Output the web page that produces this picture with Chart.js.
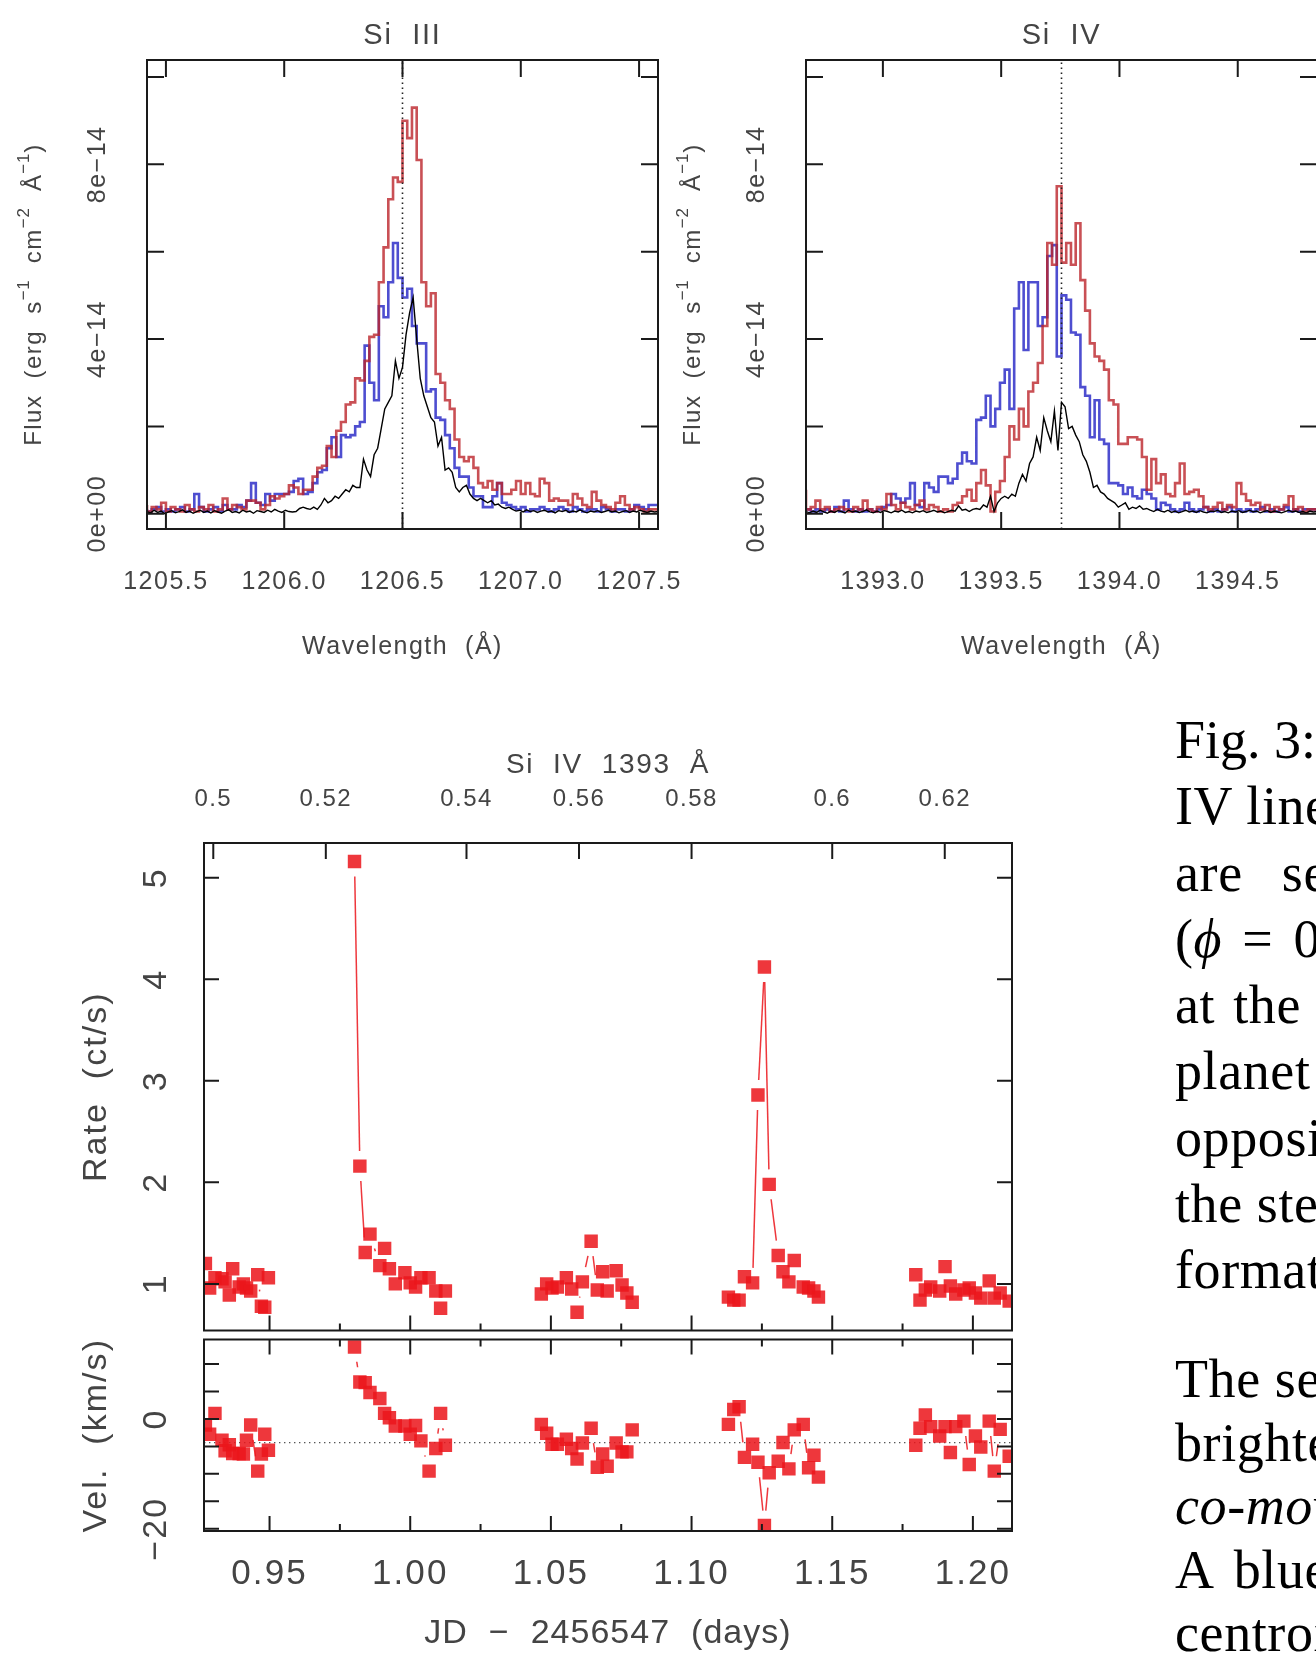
<!DOCTYPE html>
<html>
<head>
<meta charset="utf-8">
<title>Si III / Si IV line profiles and Si IV light curve</title>
<script src="https://cdn.jsdelivr.net/npm/chart.js@4.4.0/dist/chart.umd.min.js"></script>
<style>
  html, body { margin: 0; padding: 0; background: #fff; }
  body { width: 1316px; height: 1659px; overflow: hidden; position: relative; }
  canvas { position: absolute; }
  .cap {
    position: absolute; left: 1175px; white-space: nowrap;
    font-family: "Liberation Serif", "DejaVu Serif", serif;
    font-size: 54px; line-height: 66px; color: #000; letter-spacing: 0.6px;
  }
</style>
</head>
<body>
<canvas id="si3Chart" width="700" height="680" style="left:0;top:0;width:700px;height:680px"></canvas>
<canvas id="si4Chart" width="700" height="680" style="left:660px;top:0;width:700px;height:680px"></canvas>
<canvas id="rateChart" width="1060" height="640" style="left:0;top:700px;width:1060px;height:640px"></canvas>
<canvas id="velChart" width="1060" height="329" style="left:0;top:1330px;width:1060px;height:329px"></canvas>

<div class="cap" style="top:707px;letter-spacing:0">Fig. 3: Top: Si III and Si</div>
<div class="cap" style="top:773px">IV lines in the quiescent</div>
<div class="cap" style="top:840px;word-spacing:25px">are seen during the</div>
<div class="cap" style="top:906px;word-spacing:6px">(<i>ϕ</i> = 0.52) and</div>
<div class="cap" style="top:972px;word-spacing:4px">at the same</div>
<div class="cap" style="top:1038px">planet and</div>
<div class="cap" style="top:1105px">opposite</div>
<div class="cap" style="top:1171px">the stellar</div>
<div class="cap" style="top:1237px">formation</div>
<div class="cap" style="top:1346px">The second</div>
<div class="cap" style="top:1410px">brightening</div>
<div class="cap" style="top:1473px"><i>co-moving</i></div>
<div class="cap" style="top:1537px;word-spacing:8px">A blue</div>
<div class="cap" style="top:1600px">centroid</div>

<script>
// ---------- spectra (flux in units of 1e-14 erg s-1 cm-2 A-1) ----------
const SI3_REST = 1206.50;
const SI3_MIN = 1205.42;
const SI3_MAX = 1207.58;
const SI4_REST = 1393.755;
const SI4_MIN = 1392.675;
const SI4_MAX = 1394.835;
const FLUX_MIN = -0.35;
const FLUX_MAX = 10.39;
const BIN = 0.02;    // red / blue histogram bin width (A)
const FINE = 0.015;  // black spectrum sampling (A)

const si3Red = [
  0.2, 0.05, 0.15, 0.1, 0.25, 0.05, 0.15, 0.1, 0.05, 0.2, 0.1, 0.05, 0.15, 0.1, 0.2, 0.05, 0.1, 0.35, 0.1,
  0.2, 0.15, 0.1, 0.3, 0.3, 0.25, 0.1, 0.2, 0.4, 0.35,
  0.4, 0.45, 0.65, 0.6, 0.45, 0.55, 0.55, 0.85, 1.05, 1.1,
  1.55, 1.3, 1.9, 2.1, 2.5, 2.55, 3.1, 3.05, 3.5, 4.05,
  4.1, 5.3, 6.1, 7.2, 7.7, 7.6, 9.0, 8.6, 9.3, 8.1,
  5.3, 4.75, 5.05, 3.2, 3.0, 2.6, 2.4, 1.7, 1.3, 1.2,
  1.3, 1.05, 0.7, 0.6, 0.75, 0.55, 0.7, 0.45, 0.45, 0.55,
  0.75, 0.45, 0.7, 0.45, 0.4, 0.8, 0.7, 0.3, 0.35, 0.3,
  0.3, 0.2, 0.45, 0.35, 0.2, 0.15, 0.5, 0.3, 0.2, 0.15, 0.1, 0.25, 0.4, 0.2, 0.1, 0.15, 0.1, 0.05, 0.1
];
const si3Blue = [
  0.1, 0.05, 0.1, 0.15, 0.05, 0.1, 0.05, 0.1, 0.15, 0.05, 0.1, 0.45, 0.15, 0.05, 0.1, 0.15, 0.05, 0.2, 0.1,
  0.1, 0.2, 0.15, 0.3, 0.7, 0.25, 0.2, 0.45, 0.3, 0.45,
  0.45, 0.45, 0.5, 0.75, 0.8, 0.45, 0.5, 0.7, 0.95, 1.0,
  1.5, 1.75, 1.3, 1.8, 1.75, 1.8, 2.0, 2.1, 3.85, 3.0,
  2.6, 4.75, 4.5, 5.3, 6.2, 5.4, 4.95, 5.15, 4.3, 3.9,
  3.9, 2.8, 2.85, 2.2, 2.15, 1.8, 1.5, 1.05, 0.85, 0.85,
  0.6, 0.4, 0.4, 0.15, 0.15, 0.4, 0.7, 0.25, 0.2, 0.15,
  0.1, 0.15, 0.05, 0.1, 0.1, 0.15, 0.1, 0.05, 0.1, 0.15,
  0.1, 0.05, 0.15, 0.1, 0.05, 0.1, 0.1, 0.05, 0.15, 0.1, 0.05, 0.1, 0.1, 0.05, 0.1, 0.2, 0.15, 0.1, 0.2
];
const si3Black = [
  0.05, 0.02, 0.08, 0.03, 0.06, 0.0, 0.04, 0.07, 0.02, 0.05, 0.09, 0.03, 0.06, 0.01, 0.05, 0.08, 0.03, 0.06, 0.02, 0.07,
  0.04, 0.01, 0.06, 0.09, 0.03, 0.05, 0.02, 0.08, 0.04, 0.06, 0.01, 0.07, 0.05, 0.03, 0.08, 0.04, 0.1, 0.06, 0.03, 0.08,
  0.05, 0.04,
  0.05, 0.12, 0.15, 0.12, 0.1, 0.15, 0.1, 0.2, 0.35, 0.25, 0.3,
  0.4, 0.35, 0.45, 0.55, 0.5, 0.65, 0.6, 0.6, 1.25, 1.0,
  0.85, 1.35, 1.5, 1.95, 2.4, 2.55, 2.7, 3.5, 3.1, 3.35,
  4.1, 4.6, 4.95, 4.0, 3.1, 2.7, 2.45, 2.2, 2.1, 1.55,
  1.75, 1.0, 1.05, 0.95, 0.6, 0.5, 0.6, 0.65, 0.45, 0.35,
  0.3, 0.35, 0.3, 0.25, 0.3, 0.2, 0.22, 0.15, 0.12, 0.15,
  0.1, 0.06, 0.08, 0.04, 0.09, 0.05, 0.07, 0.03, 0.06, 0.08, 0.04, 0.06, 0.02, 0.07, 0.05, 0.08, 0.03, 0.06, 0.04, 0.09,
  0.05, 0.02, 0.06, 0.04, 0.07, 0.03, 0.05, 0.08, 0.04, 0.06, 0.02, 0.05, 0.07, 0.03, 0.06, 0.04, 0.08, 0.05, 0.03, 0.06,
  0.04, 0.05
];

const si4Red = [
  0.55, 0.1, 0.15, 0.3, 0.1, 0.15, 0.05, 0.1, 0.15, 0.1,
  0.05, 0.15, 0.1, 0.3, 0.1, 0.05, 0.15, 0.1, 0.45, 0.2,
  0.1, 0.25, 0.15, 0.1, 0.2, 0.3, 0.1, 0.2, 0.15, 0.05,
  0.1, 0.05, 0.2, 0.25, 0.4, 0.55, 0.3, 0.7, 1.0, 0.65,
  0.05, 0.5, 0.75, 1.3, 2.0, 1.7, 2.4, 2.0, 2.8, 3.0,
  3.45, 4.3, 6.2, 5.7, 7.5, 5.75, 6.2, 5.7, 6.65, 5.35,
  4.65, 3.9, 3.6, 3.5, 3.3, 2.6, 2.5, 1.6, 1.6, 1.75,
  1.75, 1.7, 1.3, 0.55, 1.25, 0.7, 0.9, 0.45, 0.4, 0.7,
  1.15, 0.45, 0.5, 0.55, 0.4, 0.15, 0.1, 0.15, 0.25, 0.1,
  0.2, 0.15, 0.7, 0.45, 0.3, 0.2, 0.25, 0.1, 0.2, 0.05,
  0.15, 0.1, 0.2, 0.4, 0.1, 0.15, 0.05, 0.1
];
const si4Blue = [
  0.05, 0.1, 0.05, 0.1, 0.05, 0.1, 0.05, 0.15, 0.05, 0.3, 0.1, 0.05, 0.1, 0.05, 0.1, 0.05, 0.1, 0.15,
  0.2, 0.45,
  0.35, 0.25, 0.35, 0.7, 0.2, 0.15, 0.7, 0.6, 0.5, 0.85,
  0.85, 0.7, 0.8, 1.15, 1.4, 1.2, 1.15, 2.15, 2.2, 2.7,
  2.0, 2.4, 3.0, 3.3, 2.4, 4.7, 5.3, 3.75, 5.3, 5.3,
  4.3, 4.5, 5.9, 6.15, 3.6, 5.0, 4.9, 4.15, 4.1, 2.9,
  2.7, 1.75, 2.6, 1.7, 1.6, 0.7, 0.7, 0.65, 0.45, 0.6,
  0.4, 0.35, 0.55, 0.45, 0.35, 0.1, 0.25, 0.2, 0.1, 0.05,
  0.1, 0.25,
  0.1, 0.05, 0.1, 0.15, 0.05, 0.1, 0.05, 0.1, 0.15, 0.05, 0.1, 0.05, 0.1, 0.05, 0.1, 0.15, 0.05, 0.1, 0.05, 0.1,
  0.15, 0.05, 0.1, 0.05, 0.1, 0.1
];
const si4Black = [
  0.05, 0.02, 0.06, 0.03, 0.08, 0.04, 0.01, 0.06, 0.03, 0.07, 0.05, 0.02, 0.08, 0.04, 0.06, 0.03, 0.05, 0.09, 0.04, 0.02,
  0.06, 0.03, 0.07, 0.05, 0.02, 0.06, 0.04, 0.08, 0.03, 0.05, 0.02, 0.06, 0.04, 0.07, 0.03, 0.05, 0.08, 0.04, 0.06, 0.02,
  0.05, 0.08, 0.06,
  0.18, 0.08, 0.1, 0.05, 0.1, 0.12, 0.1,
  0.2, 0.15, 0.4, 0.05, 0.25, 0.35, 0.4, 0.35, 0.45, 0.4,
  0.7, 0.9, 0.75, 1.15, 1.3, 1.75, 1.45, 2.2, 1.9, 1.65,
  2.35, 1.45, 2.55, 2.45, 1.95, 2.0, 1.8, 1.65, 1.35, 1.2,
  0.95, 0.6, 0.65, 0.5, 0.45, 0.35, 0.3, 0.25, 0.15, 0.2,
  0.25, 0.1, 0.15, 0.12, 0.18, 0.1, 0.12, 0.08, 0.05, 0.1,
  0.06, 0.04, 0.08, 0.03, 0.06, 0.02, 0.05, 0.08, 0.04, 0.06, 0.03, 0.07, 0.04, 0.02, 0.06, 0.05, 0.08, 0.03, 0.05, 0.02,
  0.06, 0.04, 0.07, 0.03, 0.05, 0.08, 0.04, 0.06, 0.02, 0.05, 0.07, 0.03, 0.06, 0.04, 0.02, 0.05, 0.08, 0.04, 0.06, 0.03,
  0.05, 0.02, 0.06, 0.04, 0.05
];

// ---------- Si IV 1393 light curve ----------
const JD_MIN = 0.9267;
const JD_MAX = 1.2139;
const RATE_MIN = 0.541;
const RATE_MAX = 5.342;
const VEL_MIN = -20.4;
const VEL_MAX = 14.45;
const VEL_REF = -4.3;
const VISIT_GAP = 0.01; // days; no connecting line across HST orbits

const jdTimes = [
  0.9272, 0.9287, 0.9306, 0.9331, 0.9342, 0.9357, 0.9369, 0.9392, 0.9407, 0.9418, 0.9433, 0.9458, 0.9471, 0.9483, 0.9496,
  0.9802, 0.9821, 0.9840, 0.9857, 0.9892, 0.9909, 0.9926, 0.9947, 0.9981, 1.0000, 1.0019, 1.0038, 1.0067, 1.0091, 1.0108, 1.0125,
  1.0466, 1.0485, 1.0504, 1.0523, 1.0555, 1.0574, 1.0593, 1.0612, 1.0643, 1.0665, 1.0684, 1.0700, 1.0732, 1.0753, 1.0770, 1.0789,
  1.1131, 1.1150, 1.1169, 1.1188, 1.1217, 1.1236, 1.1259, 1.1276, 1.1308, 1.1325, 1.1346, 1.1365, 1.1397, 1.1416, 1.1435, 1.1451,
  1.1797, 1.1812, 1.1831, 1.1850, 1.1882, 1.1901, 1.1920, 1.1939, 1.1968, 1.1987, 1.2009, 1.2028, 1.2058, 1.2076, 1.2097, 1.2129
];
const rates = [
  1.20, 0.96, 1.06, 1.05, 1.02, 0.89, 1.15, 0.97, 1.00, 0.96, 0.93, 1.09, 0.78, 0.77, 1.06,
  5.16, 2.16, 1.31, 1.49, 1.18, 1.35, 1.15, 1.00, 1.11, 1.01, 0.97, 1.06, 1.06, 0.93, 0.76, 0.93,
  0.90, 1.00, 0.96, 0.97, 1.06, 0.95, 0.72, 1.02, 1.42, 0.94, 1.12, 0.93, 1.13, 0.99, 0.91, 0.82,
  0.87, 0.84, 0.84, 1.07, 1.01, 2.86, 4.12, 1.98, 1.28, 1.12, 1.02, 1.23, 0.97, 0.96, 0.93, 0.87,
  1.09, 0.84, 0.94, 0.97, 0.93, 1.17, 0.98, 0.90, 0.94, 0.96, 0.91, 0.86, 1.03, 0.86, 0.91, 0.83
];
const velocities = [
  -1.1, -2.8, 1.0, -3.9, -5.8, -4.7, -6.3, -6.3, -6.4, -3.9, -1.1, -9.5, -6.4, -2.8, -5.7,
  13.1, 6.7, 6.6, 4.8, 3.7, 1.0, 0.2, -1.3, -1.3, -2.8, -1.2, -4.0, -9.5, -5.4, 1.0, -4.8,
  -1.0, -2.6, -4.6, -4.6, -3.7, -5.4, -7.3, -4.4, -1.7, -8.8, -6.4, -8.6, -4.4, -6.0, -6.0, -2.0,
  -1.0, 1.7, 2.2, -7.0, -4.6, -7.9, -19.4, -9.8, -7.7, -4.3, -9.1, -2.0, -1.0, -8.9, -6.6, -10.6,
  -4.8, -1.7, 0.7, -1.4, -3.1, -1.4, -6.1, -1.4, -0.4, -8.3, -3.1, -5.1, -0.4, -9.5, -1.9, -6.8
];

// ---------- ticks ----------
const SI3_WAVE_TICKS = [1205.5, 1206.0, 1206.5, 1207.0, 1207.5];
const SI3_WAVE_LABELS = ['1205.5', '1206.0', '1206.5', '1207.0', '1207.5'];
const SI4_WAVE_TICKS = [1393.0, 1393.5, 1394.0, 1394.5];
const SI4_WAVE_LABELS = ['1393.0', '1393.5', '1394.0', '1394.5'];
const FLUX_TICKS = [0, 2, 4, 6, 8, 10];
const FLUX_LABEL_VALUES = [0, 4, 8];
const FLUX_LABELS = ['0e+00', '4e\u221214', '8e\u221214'];
const JD_MAJOR = [0.95, 1.00, 1.05, 1.10, 1.15, 1.20];
const JD_LABELS = ['0.95', '1.00', '1.05', '1.10', '1.15', '1.20'];
const JD_MINOR = [0.975, 1.025, 1.075, 1.125, 1.175];
const PHASE_TICK_JD = [0.93, 0.97, 1.02, 1.06, 1.10, 1.15, 1.19];
const PHASE_LABELS = ['0.5', '0.52', '0.54', '0.56', '0.58', '0.6', '0.62'];
const RATE_TICKS = [1, 2, 3, 4, 5];
const RATE_LABELS = ['1', '2', '3', '4', '5'];
const VEL_TICKS = [-20, -15, -10, -5, 0, 5, 10];
const VEL_LABEL_VALUES = [-20, 0];
const VEL_LABELS = ['\u221220', '0'];

// ---------- styling ----------
const AX_FONT = '"Liberation Sans", Arial, sans-serif';
const TEXT_COLOR = '#444';
const FRAME_COLOR = '#1a1a1a';
const RED_STEP = 'rgba(188,36,42,0.8)';
const BLUE_STEP = 'rgba(34,34,196,0.8)';
const LC_RED = 'rgba(235,22,28,0.86)';

const FLUX_TITLE = [
  ['Flux  (erg  s'], ['\u22121', true], ['  cm'], ['\u22122', true], ['  \u00c5'], ['\u22121', true], [')']
];

function binPoints(start, vals) {
  const pts = vals.map((v, i) => ({ x: start + i * BIN, y: v }));
  pts.push({ x: start + vals.length * BIN, y: vals[vals.length - 1] });
  return pts;
}

function finePoints(start, vals) {
  return vals.map((v, i) => ({ x: start + i * FINE, y: v }));
}

// text with optional superscripts, centred on (cx, cy)
function drawLabel(ctx, segs, cx, cy, size, rotate, spacing) {
  ctx.save();
  ctx.translate(cx, cy);
  if (rotate) ctx.rotate(-Math.PI / 2);
  ctx.textBaseline = 'middle';
  ctx.textAlign = 'left';
  ctx.fillStyle = TEXT_COLOR;
  const parts = segs.map(([t, sup]) => {
    const fs = sup ? Math.round(size * 0.7) : size;
    const ls = sup ? 0.8 : size * (spacing == null ? 0.06 : spacing);
    ctx.font = fs + 'px ' + AX_FONT;
    ctx.letterSpacing = ls + 'px';
    return { t, sup, fs, ls, w: ctx.measureText(t).width };
  });
  const total = parts.reduce((s, p) => s + p.w, 0);
  let px = -total / 2;
  parts.forEach(p => {
    ctx.font = p.fs + 'px ' + AX_FONT;
    ctx.letterSpacing = p.ls + 'px';
    ctx.fillText(p.t, px, p.sup ? -size * 0.42 : 0);
    px += p.w;
  });
  ctx.restore();
}

// PGPLOT-like box: inside ticks, tick labels, axis titles
const frameAxes = {
  id: 'frameAxes',
  afterDatasetsDraw(chart, args, opts) {
    const { ctx, chartArea: a, scales } = chart;
    ctx.save();
    ctx.strokeStyle = FRAME_COLOR;
    ctx.lineWidth = 2;
    (opts.ticks || []).forEach(t => {
      const sc = scales[t.axis];
      t.values.forEach(v => {
        const p = sc.getPixelForValue(v);
        ctx.beginPath();
        t.edges.forEach(edge => {
          if (edge === 'top') { ctx.moveTo(p, a.top); ctx.lineTo(p, a.top + t.len); }
          if (edge === 'bottom') { ctx.moveTo(p, a.bottom); ctx.lineTo(p, a.bottom - t.len); }
          if (edge === 'left') { ctx.moveTo(a.left, p); ctx.lineTo(a.left + t.len, p); }
          if (edge === 'right') { ctx.moveTo(a.right, p); ctx.lineTo(a.right - t.len, p); }
        });
        ctx.stroke();
      });
    });
    ctx.strokeRect(a.left, a.top, a.right - a.left, a.bottom - a.top);

    (opts.labels || []).forEach(l => {
      const sc = scales[l.axis];
      l.values.forEach((v, i) => {
        const p = sc.getPixelForValue(v);
        if (l.axis === 'x') {
          const y = l.side === 'top' ? a.top - l.offset : a.bottom + l.offset;
          drawLabel(ctx, [[l.text[i]]], p, y, l.size, false);
        } else {
          drawLabel(ctx, [[l.text[i]]], a.left - l.offset, p, l.size, true);
        }
      });
    });

    (opts.titles || []).forEach(t => {
      const cx = (a.left + a.right) / 2, cy = (a.top + a.bottom) / 2;
      if (t.side === 'top') drawLabel(ctx, t.segs, cx, a.top - t.offset, t.size, false, t.spacing);
      if (t.side === 'bottom') drawLabel(ctx, t.segs, cx, a.bottom + t.offset, t.size, false, t.spacing);
      if (t.side === 'left') drawLabel(ctx, t.segs, a.left - t.offset, cy, t.size, true, t.spacing);
    });
    ctx.restore();
  }
};

// connecting line with gaps around the markers, broken between orbits
const connectors = {
  id: 'connectors',
  beforeDatasetsDraw(chart, args, opts) {
    const { ctx, chartArea: a } = chart;
    const pts = chart.getDatasetMeta(0).data;
    const raw = chart.data.datasets[0].data;
    ctx.save();
    ctx.beginPath();
    ctx.rect(a.left, a.top, a.right - a.left, a.bottom - a.top);
    ctx.clip();
    ctx.strokeStyle = opts.color;
    ctx.lineWidth = opts.width;
    for (let i = 0; i < pts.length - 1; i++) {
      if (raw[i + 1].x - raw[i].x > VISIT_GAP) continue;
      const p = pts[i], q = pts[i + 1];
      const dx = q.x - p.x, dy = q.y - p.y;
      const len = Math.hypot(dx, dy);
      if (len <= 2 * opts.gap) continue;
      const ux = dx / len, uy = dy / len;
      ctx.beginPath();
      ctx.moveTo(p.x + ux * opts.gap, p.y + uy * opts.gap);
      ctx.lineTo(q.x - ux * opts.gap, q.y - uy * opts.gap);
      ctx.stroke();
    }
    ctx.restore();
  }
};

function baseOptions(padding, xmin, xmax, ymin, ymax, frame, extra) {
  return {
    responsive: false,
    animation: false,
    events: [],
    layout: { padding },
    scales: {
      x: { type: 'linear', min: xmin, max: xmax, display: false },
      y: { type: 'linear', min: ymin, max: ymax, display: false }
    },
    plugins: Object.assign({ legend: { display: false }, tooltip: { enabled: false }, frameAxes: frame }, extra || {})
  };
}

function spectrumChart(id, padding, xmin, xmax, rest, black, red, blue, waveTicks, waveLabels, title) {
  new Chart(document.getElementById(id), {
    type: 'line',
    data: {
      datasets: [
        { data: finePoints(xmin, black), borderColor: '#000', borderWidth: 1.4, pointRadius: 0 },
        {
          data: [{ x: rest, y: FLUX_MIN }, { x: rest, y: FLUX_MAX }],
          borderColor: '#222', borderWidth: 1.6, borderDash: [1.6, 3.4], pointRadius: 0
        },
        { data: binPoints(xmin, red), stepped: 'after', borderColor: RED_STEP, borderWidth: 2.6, pointRadius: 0 },
        { data: binPoints(xmin, blue), stepped: 'after', borderColor: BLUE_STEP, borderWidth: 2.6, pointRadius: 0 }
      ]
    },
    options: baseOptions(padding, xmin, xmax, FLUX_MIN, FLUX_MAX, {
      ticks: [
        { axis: 'x', values: waveTicks, edges: ['top', 'bottom'], len: 17 },
        { axis: 'y', values: FLUX_TICKS, edges: ['left', 'right'], len: 17 }
      ],
      labels: [
        { axis: 'x', values: waveTicks, text: waveLabels, offset: 53, size: 25 },
        { axis: 'y', values: FLUX_LABEL_VALUES, text: FLUX_LABELS, offset: 49, size: 25 }
      ],
      titles: [
        { segs: [[title]], side: 'top', offset: 24, size: 29 },
        { segs: [['Wavelength  (\u00c5)']], side: 'bottom', offset: 118, size: 25 },
        { segs: FLUX_TITLE, side: 'left', offset: 113, size: 24 }
      ]
    }),
    plugins: [frameAxes]
  });
}

spectrumChart('si3Chart', { left: 147, top: 60, right: 42, bottom: 151 },
  SI3_MIN, SI3_MAX, SI3_REST, si3Black, si3Red, si3Blue, SI3_WAVE_TICKS, SI3_WAVE_LABELS, 'Si  III');
spectrumChart('si4Chart', { left: 146, top: 60, right: 43, bottom: 151 },
  SI4_MIN, SI4_MAX, SI4_REST, si4Black, si4Red, si4Blue, SI4_WAVE_TICKS, SI4_WAVE_LABELS, 'Si  IV');

const lcPoint = {
  showLine: false, pointStyle: 'rect', pointRadius: 9.5,
  pointBackgroundColor: LC_RED, pointBorderWidth: 0, borderColor: LC_RED
};

new Chart(document.getElementById('rateChart'), {
  type: 'line',
  data: {
    datasets: [Object.assign({ data: jdTimes.map((t, i) => ({ x: t, y: rates[i] })) }, lcPoint)]
  },
  options: baseOptions({ left: 204, top: 143, right: 48, bottom: 2 }, JD_MIN, JD_MAX, RATE_MIN, RATE_MAX, {
    ticks: [
      { axis: 'x', values: PHASE_TICK_JD, edges: ['top'], len: 16 },
      { axis: 'x', values: JD_MAJOR, edges: ['bottom'], len: 15 },
      { axis: 'x', values: JD_MINOR, edges: ['bottom'], len: 7 },
      { axis: 'y', values: RATE_TICKS, edges: ['left', 'right'], len: 15 }
    ],
    labels: [
      { axis: 'x', values: PHASE_TICK_JD, text: PHASE_LABELS, side: 'top', offset: 44, size: 24 },
      { axis: 'y', values: RATE_TICKS, text: RATE_LABELS, offset: 47, size: 34 }
    ],
    titles: [
      { segs: [['Si  IV  1393  \u00c5']], side: 'top', offset: 78, size: 28 },
      { segs: [['Rate  (ct/s)']], side: 'left', offset: 107, size: 34 }
    ]
  }, { connectors: { gap: 15, width: 1.5, color: LC_RED } }),
  plugins: [connectors, frameAxes]
});

new Chart(document.getElementById('velChart'), {
  type: 'line',
  data: {
    datasets: [
      Object.assign({ data: jdTimes.map((t, i) => ({ x: t, y: velocities[i] })) }, lcPoint),
      {
        data: [{ x: JD_MIN, y: VEL_REF }, { x: JD_MAX, y: VEL_REF }],
        borderColor: '#555', borderWidth: 1.3, borderDash: [1.4, 3.6], pointRadius: 0
      }
    ]
  },
  options: baseOptions({ left: 204, top: 8, right: 48, bottom: 128 }, JD_MIN, JD_MAX, VEL_MIN, VEL_MAX, {
    ticks: [
      { axis: 'x', values: JD_MAJOR, edges: ['top', 'bottom'], len: 15 },
      { axis: 'x', values: JD_MINOR, edges: ['top', 'bottom'], len: 7 },
      { axis: 'y', values: VEL_TICKS, edges: ['left', 'right'], len: 15 }
    ],
    labels: [
      { axis: 'x', values: JD_MAJOR, text: JD_LABELS, offset: 43, size: 35 },
      { axis: 'y', values: VEL_LABEL_VALUES, text: VEL_LABELS, offset: 47, size: 34 }
    ],
    titles: [
      { segs: [['JD  \u2212  2456547  (days)']], side: 'bottom', offset: 103, size: 34, spacing: 0.03 },
      { segs: [['Vel.  (km/s)']], side: 'left', offset: 107, size: 34 }
    ]
  }, { connectors: { gap: 15, width: 1.5, color: LC_RED } }),
  plugins: [connectors, frameAxes]
});
</script>
</body>
</html>
